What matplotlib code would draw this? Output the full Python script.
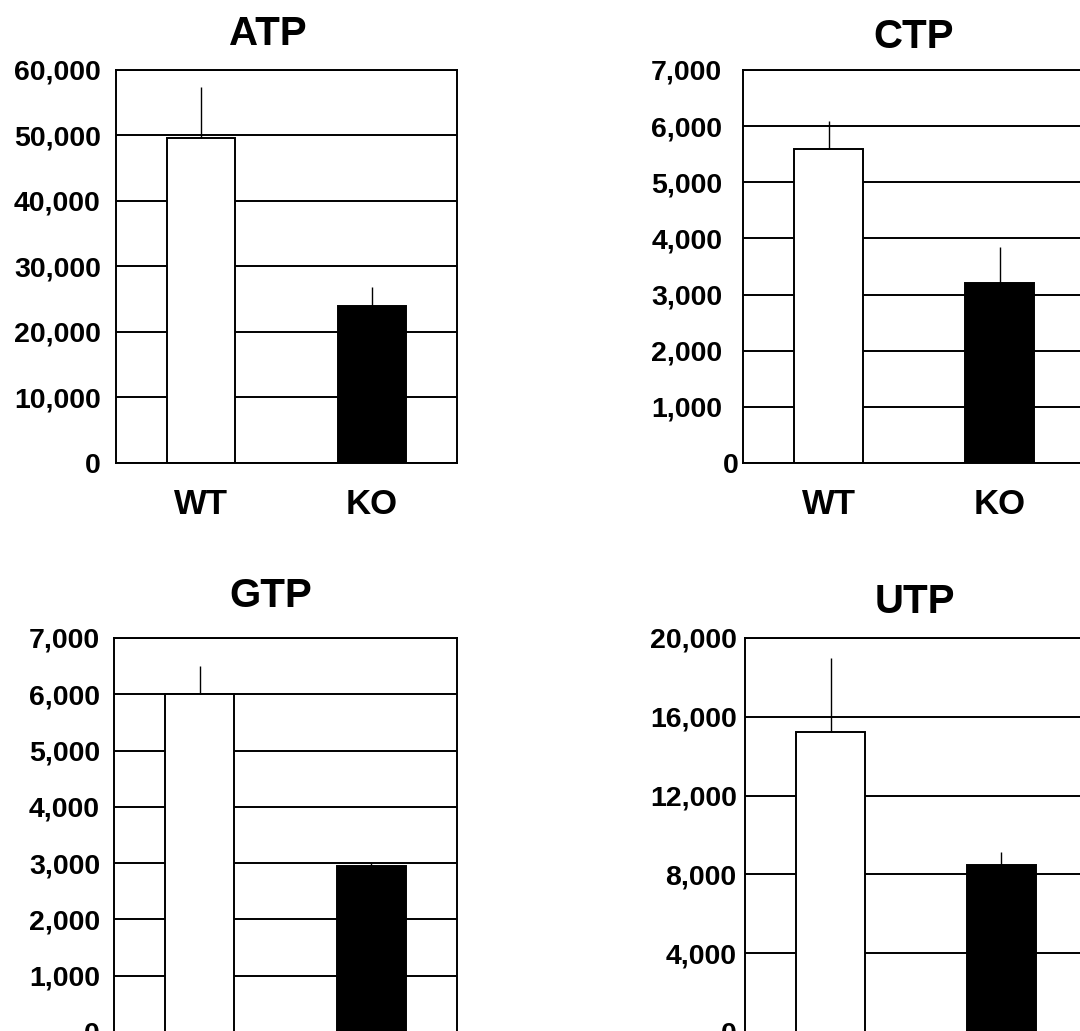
import numpy as np
import matplotlib
matplotlib.use("Agg")
import matplotlib.pyplot as plt
from matplotlib.ticker import FuncFormatter

plt.rcParams['font.family'] = ['Liberation Sans', 'DejaVu Sans']
plt.rcParams['font.weight'] = 'bold'

groups = ['WT', 'KO']
bar_colors = ['white', 'black']

# mean values and upper error (sd)
atp_mean = [49600, 24000]
atp_err = [7800, 2800]
ctp_mean = [5600, 3200]
ctp_err = [500, 650]
gtp_mean = [6000, 2950]
gtp_err = [500, 50]
utp_mean = [15250, 8500]
utp_err = [3750, 650]

atp_ticks = [0, 10000, 20000, 30000, 40000, 50000, 60000]
ctp_ticks = [0, 1000, 2000, 3000, 4000, 5000, 6000, 7000]
gtp_ticks = [0, 1000, 2000, 3000, 4000, 5000, 6000, 7000]
utp_ticks = [0, 4000, 8000, 12000, 16000, 20000]

W, H = 1080, 1031
fig = plt.figure(figsize=(W / 100, H / 100), dpi=100)
fig.patch.set_facecolor('white')


def px_axes(left, right, top, bottom):
    return fig.add_axes([left / W, 1 - bottom / H, (right - left) / W, (bottom - top) / H])


def panel(ax, mean, err, ticks, ypad, xpad=18):
    x = np.arange(len(groups))
    ax.set_axisbelow(True)
    ax.yaxis.grid(True, color='black', lw=1.4)
    ax.bar(x, mean, width=0.4, color=bar_colors, edgecolor='black', lw=1.4, zorder=2)
    ax.errorbar(x, mean, yerr=[np.zeros(len(err)), err], fmt='none',
                ecolor='black', elinewidth=1.0, capsize=0, zorder=3)
    ax.set_xlim(-0.5, 1.5)
    ax.set_ylim(ticks[0], ticks[-1])
    ax.set_yticks(ticks)
    ax.yaxis.set_major_formatter(FuncFormatter(lambda v, p: f'{int(v):,}'))
    ax.set_xticks(x)
    ax.set_xticklabels(groups, fontsize=25, fontweight='bold')
    ax.tick_params(axis='y', length=0, labelsize=20.5, pad=ypad)
    ax.tick_params(axis='x', length=0, pad=xpad)
    for s in ax.spines.values():
        s.set_linewidth(1.4)
        s.set_color('black')


ax1 = px_axes(116, 457, 70, 463)
panel(ax1, atp_mean, atp_err, atp_ticks, ypad=11)

ax2 = px_axes(743, 1085, 70, 463)
panel(ax2, ctp_mean, ctp_err, ctp_ticks, ypad=15)
ax2.yaxis.get_major_ticks()[0].set_pad(3)

ax3 = px_axes(114, 457, 638, 1032)
panel(ax3, gtp_mean, gtp_err, gtp_ticks, ypad=10)

ax4 = px_axes(745, 1087, 638, 1032)
panel(ax4, utp_mean, utp_err, utp_ticks, ypad=6)

title_kw = dict(fontsize=29, fontweight='bold', ha='center', va='baseline')
fig.text(268 / W, 1 - 45 / H, 'ATP', **title_kw)
fig.text(914 / W, 1 - 48 / H, 'CTP', **title_kw)
fig.text(271 / W, 1 - 607 / H, 'GTP', **title_kw)
fig.text(915 / W, 1 - 613 / H, 'UTP', **title_kw)

fig.savefig('out.png', dpi=100, facecolor='white')
